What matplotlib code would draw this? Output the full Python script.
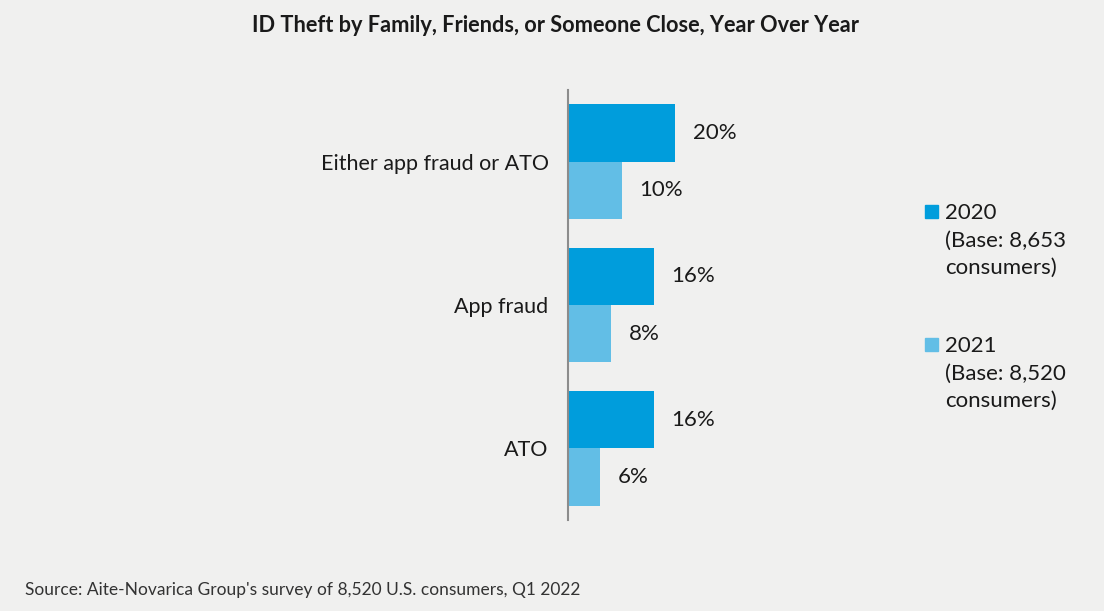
import matplotlib
matplotlib.use('Agg')
import matplotlib.pyplot as plt
from matplotlib.patches import Rectangle
import numpy as np

plt.rcParams['font.family'] = ['Lato', 'DejaVu Sans']

categories = ['Either app fraud or ATO', 'App fraud', 'ATO']
vals_2020 = [20, 16, 16]
vals_2021 = [10, 8, 6]
legend_labels = ['2020\n(Base: 8,653\nconsumers)', '2021\n(Base: 8,520\nconsumers)']
title = 'ID Theft by Family, Friends, or Someone Close, Year Over Year'
source = "Source: Aite-Novarica Group's survey of 8,520 U.S. consumers, Q1 2022"

bg = '#f0f0ef'
c2020 = '#009ddc'
c2021 = '#62bee6'
W, H = 1104, 611

fig = plt.figure(figsize=(W / 100, H / 100), dpi=100, facecolor=bg)
# axes box in pixel terms: left edge at the vertical axis line
ax = fig.add_axes([568 / W, 1 - 520 / H, (880 - 568) / W, (520 - 90) / H])
ax.set_facecolor(bg)

y = np.arange(len(categories))
h = 0.4
b1 = ax.barh(y - h / 2, vals_2020, height=h, color=c2020)
b2 = ax.barh(y + h / 2, vals_2021, height=h, color=c2021)

for bars, vals in ((b1, vals_2020), (b2, vals_2021)):
    for bar, v in zip(bars, vals):
        ax.text(v + 3.3, bar.get_y() + bar.get_height() / 2, f'{v}%',
                va='center', ha='left', fontsize=16, color='#1a1a1a')

ax.set_ylim(len(categories) - 0.5, -0.5)
ax.set_xlim(0, (880 - 568) / 5.35)
ax.set_yticks(y)
ax.set_yticklabels(categories, fontsize=15.5, color='#1a1a1a')
ax.tick_params(axis='y', length=0, pad=14)
ax.set_xticks([])
for s in ['top', 'right', 'bottom']:
    ax.spines[s].set_visible(False)
ax.spines['left'].set_color('#8c8c8c')
ax.spines['left'].set_linewidth(1.5)

fig.text(556 / W, 1 - 25 / H, title, ha='center', va='center',
         fontsize=15.7, fontweight='bold', color='#1a1a1a')
fig.text(25 / W, 1 - 590 / H, source, ha='left', va='center',
         fontsize=12.5, color='#333333')

# legend drawn by hand so the swatch sits beside the first line
for i, (lab, col) in enumerate(zip(legend_labels, [c2020, c2021])):
    top = 203 + i * 133
    fig.patches.append(Rectangle((925 / W, 1 - (top + 15) / H), 13 / W, 13 / H,
                                 transform=fig.transFigure, color=col))
    fig.text(945 / W, 1 - top / H, lab, ha='left', va='top', fontsize=16,
             color='#1a1a1a', linespacing=1.47)

fig.savefig('out.png', dpi=100, facecolor=bg)
